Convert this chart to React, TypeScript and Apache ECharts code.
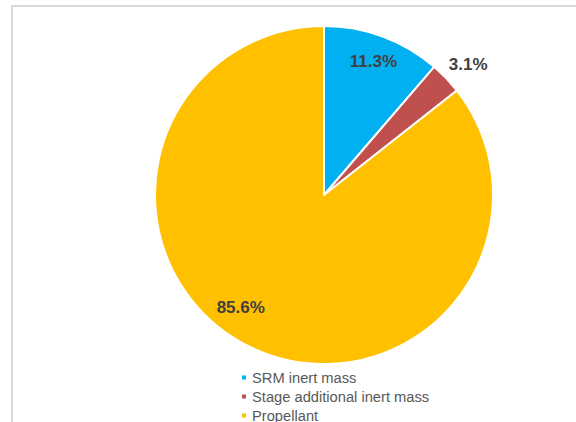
import React, { useEffect, useRef } from "react";
import * as echarts from "echarts";

const categories = ["SRM inert mass", "Stage additional inert mass", "Propellant"];
const shares = [11.3, 3.1, 85.6];
const colors = ["#00B0F0", "#C0504D", "#FFC000"];
const labelOffsets: [number, number][] = [[19, -51], [81, -70], [-45, 34]];

export default function App() {
  const ref = useRef<HTMLDivElement>(null);
  useEffect(() => {
    if (!ref.current) return;
    const chart = echarts.init(ref.current, undefined, { renderer: "svg" });
    chart.setOption({
      animation: false,
      backgroundColor: "#ffffff",
      graphic: [
        {
          type: "rect",
          shape: { x: 12, y: 6, width: 640, height: 500 },
          style: { fill: "none", stroke: "#d9d9d9", lineWidth: 2 },
          silent: true,
        },
      ],
      legend: {
        orient: "vertical",
        left: 240,
        top: 369,
        height: 120,
        padding: 0,
        icon: "rect",
        itemWidth: 6,
        itemHeight: 6,
        itemGap: 2,
        data: categories,
        textStyle: { color: "#595959", fontSize: 14.7, fontFamily: "Liberation Sans", lineHeight: 17 },
      },
      series: [
        {
          type: "pie",
          center: [324, 195],
          radius: 169,
          startAngle: 90,
          clockwise: true,
          itemStyle: { borderColor: "#ffffff", borderWidth: 2 },
          emphasis: { disabled: true },
          labelLine: { show: false },
          data: categories.map((name, i) => ({
            name,
            value: shares[i],
            itemStyle: { color: colors[i] },
            label: {
              show: true,
              position: "inside",
              offset: labelOffsets[i],
              formatter: shares[i].toFixed(1) + "%",
              color: "#404040",
              fontSize: 17,
              fontWeight: "bold",
              fontFamily: "Liberation Sans",
            },
          })),
        },
      ],
    });
    return () => chart.dispose();
  }, []);
  return (
    <div
      ref={ref}
      style={{ position: "absolute", left: 0, top: 0, width: 576, height: 422 }}
    />
  );
}
